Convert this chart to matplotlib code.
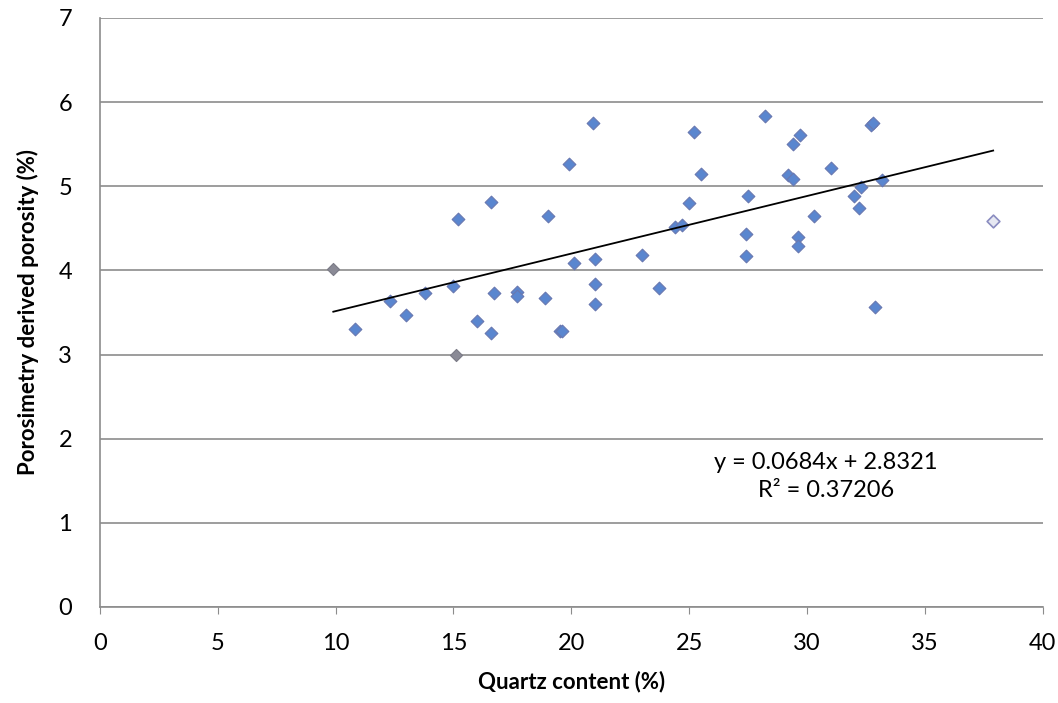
import matplotlib
matplotlib.use("Agg")
import matplotlib.pyplot as plt
import numpy as np

plt.rcParams['font.family'] = ['Lato', 'DejaVu Sans']

# quartz content (%) and porosimetry porosity (%)
quartz = [10.8, 12.3, 13.0, 13.8, 15.0, 15.2, 16.0, 16.6, 16.6, 16.7,
          17.7, 17.7, 19.0, 18.9, 19.5, 19.6, 19.9, 20.1, 20.9, 21.0,
          21.0, 21.0, 23.0, 23.7, 24.4, 24.7, 25.0, 25.2, 25.5, 28.2,
          27.5, 27.4, 27.4, 29.4, 29.7, 29.2, 29.4, 29.6, 29.6, 30.3,
          31.0, 32.0, 32.2, 32.3, 32.7, 32.8, 33.2, 32.9]
porosity = [3.30, 3.64, 3.47, 3.73, 3.81, 4.61, 3.40, 4.81, 3.26, 3.73,
            3.74, 3.70, 4.65, 3.67, 3.28, 3.28, 5.27, 4.09, 5.75, 4.14,
            3.84, 3.60, 4.18, 3.79, 4.52, 4.54, 4.80, 5.65, 5.15, 5.84,
            4.88, 4.43, 4.17, 5.50, 5.61, 5.13, 5.09, 4.40, 4.29, 4.65,
            5.22, 4.88, 4.74, 4.99, 5.73, 5.75, 5.07, 3.57]
# points drawn in grey / outlined
grey_quartz = [9.9, 15.1]
grey_porosity = [4.02, 3.00]
open_quartz = [37.9]
open_porosity = [4.59]

slope = 0.0684
intercept = 2.8321
r2 = 0.37206

fig = plt.figure(figsize=(10.58, 7.03), dpi=100)
ax = fig.add_axes([0.0945, 0.1366, 0.891, 0.8378])

ax.set_xlim(0, 40)
ax.set_ylim(0, 7)
ax.set_xticks(np.arange(0, 41, 5))
ax.set_yticks(np.arange(0, 8, 1))
ax.yaxis.grid(True, color='#8c8c8c', linewidth=1.2)
ax.set_axisbelow(True)
for s in ['top', 'right']:
    ax.spines[s].set_visible(False)
for s in ['left', 'bottom']:
    ax.spines[s].set_color('#8c8c8c')
    ax.spines[s].set_linewidth(1.2)
ax.tick_params(axis='x', direction='out', length=5, color='#8c8c8c', labelsize=17, pad=14)
ax.tick_params(axis='y', length=0, labelsize=17, pad=20)

ax.scatter(quartz, porosity, marker='D', s=42, color='#5a86cf',
           edgecolors='#6a78b0', linewidths=0.8, zorder=3)
ax.scatter(grey_quartz, grey_porosity, marker='D', s=38, color='#8a8a96',
           edgecolors='#7a7a86', linewidths=0.8, zorder=3)
ax.scatter(open_quartz, open_porosity, marker='D', s=42, color='#e6e8f2',
           edgecolors='#8a8cc0', linewidths=1.2, zorder=3)

xs = np.array([min(grey_quartz), max(open_quartz)])
ax.plot(xs, slope * xs + intercept, color='black', linewidth=1.3, zorder=4)

ax.text(30.8, 1.55, f'y = {slope}x + {intercept}\nR\u00b2 = {r2}',
        ha='center', va='center', fontsize=17, linespacing=1.45)

ax.set_xlabel('Quartz content (%)', fontsize=16, fontweight='bold', labelpad=12)
ax.set_ylabel('Porosimetry derived porosity (%)', fontsize=16, fontweight='bold', labelpad=14)

fig.savefig('out.png', dpi=100)
